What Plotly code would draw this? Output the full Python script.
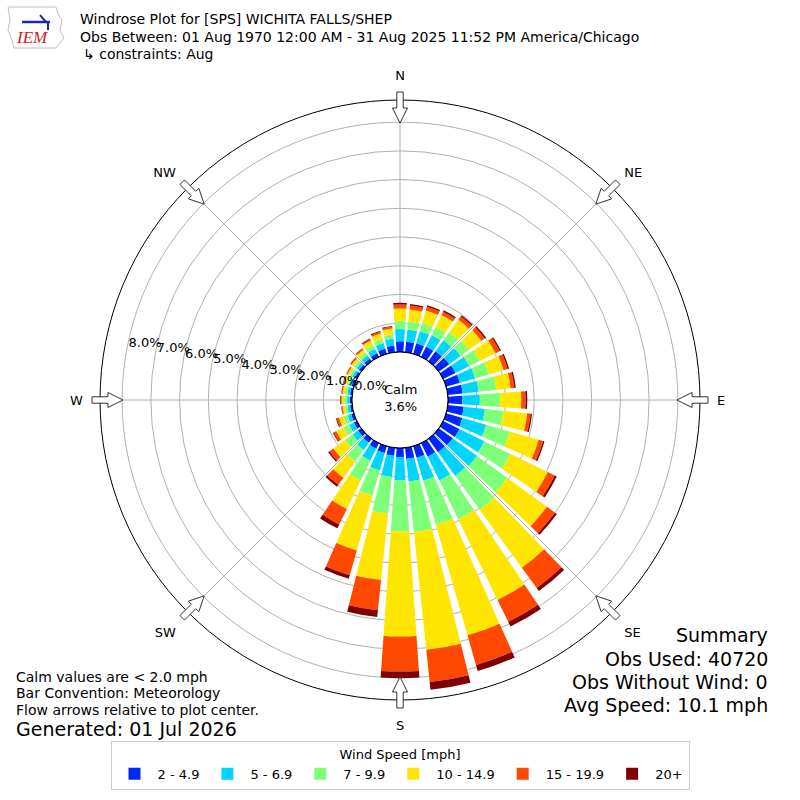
import math
import plotly.graph_objects as go

# direction bins (degrees, meteorological "from" direction)
directions = [0, 10, 20, 30, 40, 50, 60, 70, 80, 90, 100, 110, 120, 130, 140, 150, 160, 170,
              180, 190, 200, 210, 220, 230, 240, 250, 260, 270, 280, 290, 300, 310, 320, 330, 340, 350]

spd_2_5 = [0.37, 0.37, 0.38, 0.40, 0.43, 0.45, 0.48, 0.50, 0.52, 0.50, 0.56, 0.59, 0.63, 0.60, 0.58, 0.52, 0.42, 0.39,
           0.32, 0.28, 0.25, 0.22, 0.17, 0.14, 0.12, 0.10, 0.08, 0.08, 0.08, 0.09, 0.09, 0.10, 0.12, 0.15, 0.19, 0.24]
spd_5_7 = [0.43, 0.43, 0.44, 0.45, 0.47, 0.49, 0.52, 0.55, 0.56, 0.61, 0.74, 0.86, 0.97, 1.05, 1.02, 0.93, 0.83, 0.79,
           0.81, 0.74, 0.63, 0.46, 0.31, 0.23, 0.18, 0.13, 0.09, 0.09, 0.09, 0.09, 0.09, 0.11, 0.13, 0.16, 0.20, 0.23]
spd_7_10 = [0.28, 0.28, 0.30, 0.31, 0.34, 0.36, 0.42, 0.50, 0.62, 0.70, 0.65, 0.85, 1.00, 1.30, 1.45, 1.50, 1.60, 1.77,
            1.77, 1.28, 0.92, 0.77, 0.50, 0.33, 0.22, 0.15, 0.09, 0.10, 0.09, 0.09, 0.09, 0.10, 0.12, 0.15, 0.16, 0.16]
spd_10_15 = [0.43, 0.42, 0.45, 0.46, 0.54, 0.53, 0.61, 0.53, 0.50, 0.74, 0.83, 1.05, 1.45, 1.70, 2.50, 3.12, 4.00, 4.12,
             3.66, 2.33, 1.98, 1.10, 0.70, 0.50, 0.28, 0.16, 0.08, 0.09, 0.08, 0.09, 0.09, 0.10, 0.12, 0.17, 0.19, 0.20]
spd_15_20 = [0.14, 0.14, 0.14, 0.13, 0.14, 0.14, 0.16, 0.15, 0.13, 0.15, 0.12, 0.16, 0.27, 0.35, 0.87, 0.85, 1.07, 1.13,
             1.22, 1.06, 0.89, 0.60, 0.30, 0.17, 0.10, 0.08, 0.04, 0.04, 0.04, 0.04, 0.04, 0.04, 0.05, 0.05, 0.06, 0.06]
spd_20p = [0.06, 0.05, 0.05, 0.05, 0.05, 0.06, 0.05, 0.05, 0.05, 0.06, 0.05, 0.05, 0.08, 0.08, 0.13, 0.18, 0.22, 0.27,
           0.23, 0.23, 0.13, 0.15, 0.08, 0.05, 0.03, 0.03, 0.01, 0.02, 0.01, 0.01, 0.01, 0.02, 0.02, 0.03, 0.03, 0.03]

bins = ['2 - 4.9', '5 - 6.9', '7 - 9.9', '10 - 14.9', '15 - 19.9', '20+']
colors = ['#0026ff', '#00d5ff', '#7dff7a', '#ffe600', '#ff4800', '#7f0000']
series = [spd_2_5, spd_5_7, spd_7_10, spd_10_15, spd_15_20, spd_20p]

compass = ['N', 'NE', 'E', 'SE', 'S', 'SW', 'W', 'NW']
compass_deg = [0, 45, 90, 135, 180, 225, 270, 315]
rticks = [0, 1, 2, 3, 4, 5, 6, 7, 8]

FONT = 'DejaVu Sans'

fig = go.Figure()

for name, vals, col in zip(bins, series, colors):
    fig.add_trace(go.Barpolar(
        r=vals,
        theta=directions,
        width=8,
        name=name,
        marker=dict(color=col, line=dict(width=0)),
    ))

# black ring around the calm hole
ring = list(range(0, 361, 5))
fig.add_trace(go.Scatterpolar(
    r=[0] * len(ring), theta=ring, mode='lines',
    line=dict(color='black', width=1.2), showlegend=False, hoverinfo='skip'
))

fig.update_layout(
    width=800, height=800,
    margin=dict(l=0, r=0, t=0, b=0),
    paper_bgcolor='white',
    font=dict(family=FONT, color='black', size=13),
    polar=dict(
        domain=dict(x=[0.125, 0.875], y=[0.125, 0.875]),
        hole=0.16,
        bgcolor='white',
        barmode='stack',
        radialaxis=dict(
            range=[0, 8.77],
            tickvals=rticks,
            ticktext=['%.1f%%' % v for v in rticks],
            angle=169,
            tickangle=169,
            side='clockwise',
            showline=False,
            ticks='',
            gridcolor='#b0b0b0',
            gridwidth=1,
            tickfont=dict(size=13, color='black'),
        ),
        angularaxis=dict(
            rotation=90,
            direction='clockwise',
            tickmode='array',
            tickvals=compass_deg,
            ticktext=compass,
            linecolor='black',
            linewidth=1,
            gridcolor='#b0b0b0',
            gridwidth=1,
            ticks='outside',
            ticklen=14,
            tickcolor='rgba(0,0,0,0)',
            tickfont=dict(size=13, color='black'),
        ),
    ),
    legend=dict(
        orientation='h',
        x=0.5, xanchor='center',
        y=0.074, yanchor='top',
        bordercolor='#cccccc', borderwidth=1,
        font=dict(size=13),
        title=dict(text='Wind Speed [mph]', side='top center', font=dict(size=13)),
        traceorder='normal',
        itemwidth=36,
    ),
)

# outline arrows on the rim, pointing at the plot centre
for a in compass_deg:
    t = math.radians(a)
    ux, uy = math.sin(t), -math.cos(t)
    vx, vy = math.cos(t), math.sin(t)
    cx, cy = 400, 400

    def pt(r, w):
        return (cx + ux * r + vx * w, cy + uy * r + vy * w)

    pts = [pt(277, 0), pt(292, 7.5), pt(292, 3.2), pt(308, 3.2),
           pt(308, -3.2), pt(292, -3.2), pt(292, -7.5)]
    path = 'M ' + ' L '.join('%.4f %.4f' % (x / 800, 1 - y / 800) for x, y in pts) + ' Z'
    fig.add_shape(type='path', path=path, xref='paper', yref='paper',
                  fillcolor='white', line=dict(color='#333333', width=1))

def note(x, y, text, size=13, anchor='left', **kw):
    fig.add_annotation(x=x / 800, y=1 - y / 800, xref='paper', yref='paper',
                       text=text, showarrow=False, xanchor=anchor, yanchor='middle',
                       font=dict(size=size, family=kw.get('family', FONT), color=kw.get('color', 'black')),
                       align=anchor if anchor != 'center' else 'center')

note(78, 19, 'Windrose Plot for [SPS] WICHITA FALLS/SHEP', 14)
note(78, 37, 'Obs Between: 01 Aug 1970 12:00 AM - 31 Aug 2025 11:52 PM America/Chicago', 14)
note(81, 54, '↳ constraints: Aug', 14)

note(400, 398, 'Calm<br>3.6%', 13, 'center')

note(14, 677, 'Calm values are &lt; 2.0 mph', 14)
note(14, 693, 'Bar Convention: Meteorology', 14)
note(14, 710, 'Flow arrows relative to plot center.', 14)
note(14, 729, 'Generated: 01 Jul 2026', 19)

note(770, 635, 'Summary', 19, 'right')
note(770, 659, 'Obs Used: 40720', 19, 'right')
note(770, 682, 'Obs Without Wind: 0', 19, 'right')
note(770, 705, 'Avg Speed: 10.1 mph', 19, 'right')

# IEM logo (rough sketch)
def px(x, y):
    return '%.4f %.4f' % (x / 800, 1 - y / 800)

fig.add_shape(type='path', xref='paper', yref='paper',
              path='M ' + ' L '.join(px(x, y) for x, y in
                                     [(8, 7), (56, 7), (58, 14), (62, 20), (60, 30), (64, 38),
                                      (56, 48), (14, 48), (12, 40), (8, 30), (10, 20)]) + ' Z',
              line=dict(color='#c0c0c0', width=1))
fig.add_shape(type='path', xref='paper', yref='paper',
              path='M ' + px(22, 22) + ' L ' + px(50, 22),
              line=dict(color='#1a2aa0', width=2.5))
fig.add_shape(type='path', xref='paper', yref='paper',
              path='M ' + px(40, 15) + ' L ' + px(46, 22) + ' M ' + px(48, 22) + ' L ' + px(48, 30),
              line=dict(color='#1a2aa0', width=2))
note(14, 38, '<i>IEM</i>', 17, family='Liberation Serif', color='#cc2222')

fig.write_html('out.html', config={'displayModeBar': False},
               post_script="document.body.style.margin='0';")
